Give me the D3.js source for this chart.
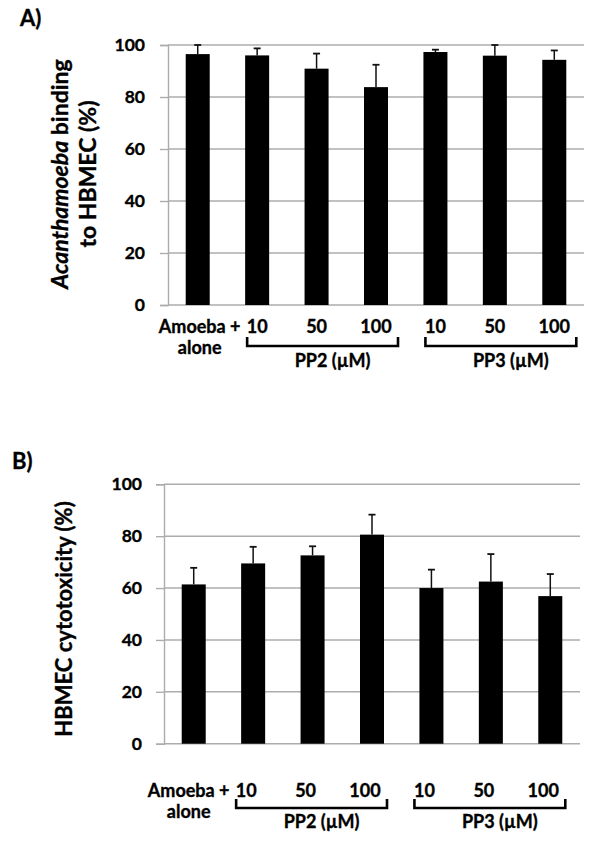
<!DOCTYPE html>
<html><head><meta charset="utf-8">
<script src="https://cdn.jsdelivr.net/npm/d3@7"></script>
<style>body{margin:0;background:#fff}svg{display:block}text{font-family:Lato,"Open Sans",sans-serif;font-weight:bold;fill:#000;stroke:#000;stroke-width:0.35px}</style>
</head><body>
<svg id="c" width="600" height="845"></svg>
<script>
const categories = ["Amoeba +|alone", "10", "50", "100", "10", "50", "100"];
const bindingMeans = [96.5, 96.0, 90.9, 83.8, 97.3, 95.9, 94.3];
const bindingErrors = [3.5, 2.7, 5.8, 8.6, 0.9, 4.1, 3.6];
const cytoMeans = [61.4, 69.5, 72.6, 80.6, 60.0, 62.5, 56.9];
const cytoErrors = [6.4, 6.4, 3.5, 7.7, 7.1, 10.6, 8.5];
const yTicks = [0, 20, 40, 60, 80, 100];
const groupLabels = ["PP2 (\u00b5M)", "PP3 (\u00b5M)"];
const groupFrom = [1, 4];
const groupTo = [3, 6];

const svg = d3.select("#c");

function panel(o) {
  const g = svg.append("g");
  const y = d3.scaleLinear().domain([0, 100]).range([o.y0, o.y100]);
  const x = d3.scaleBand().domain(d3.range(categories.length)).range([o.left, o.right])
    .paddingInner(0.596).paddingOuter(0.298);
  // gridlines
  g.selectAll(".grid").data(yTicks.filter(d => d > 0)).join("line")
    .attr("x1", o.left).attr("x2", o.right).attr("y1", d => y(d)).attr("y2", d => y(d))
    .attr("stroke", "#acacac").attr("stroke-width", 1.4);
  // axis
  const ax = d3.axisLeft(y).tickValues(yTicks).tickSize(8).tickPadding(o.tickPad);
  const axg = g.append("g").attr("transform", `translate(${o.left},0)`).call(ax);
  axg.select(".domain").attr("stroke", "#acacac").attr("stroke-width", 1.4);
  axg.selectAll(".tick line").attr("stroke", "#acacac").attr("stroke-width", 1.4);
  axg.selectAll(".tick text").attr("font-size", 17.5).attr("font-family", "Lato").attr("font-weight", "bold")
    .attr("fill", "#000").attr("stroke", "#000").attr("stroke-width", 0.35);
  // bottom axis line
  g.append("line").attr("x1", o.left).attr("x2", o.right).attr("y1", y(0)).attr("y2", y(0))
    .attr("stroke", "#acacac").attr("stroke-width", 1.4);
  // bars
  g.selectAll(".bar").data(o.means).join("rect")
    .attr("x", (d, i) => x(i)).attr("width", x.bandwidth())
    .attr("y", d => y(d)).attr("height", d => y(0) - y(d)).attr("fill", "#000");
  // error bars
  const cap = 3.5;
  o.means.forEach((m, i) => {
    const cx = x(i) + x.bandwidth() / 2;
    g.append("line").attr("x1", cx).attr("x2", cx).attr("y1", y(m)).attr("y2", y(m + o.errs[i]))
      .attr("stroke", "#111").attr("stroke-width", 1.5);
    g.append("line").attr("x1", cx - cap).attr("x2", cx + cap).attr("y1", y(m + o.errs[i])).attr("y2", y(m + o.errs[i]))
      .attr("stroke", "#111").attr("stroke-width", 1.8);
  });
  // x labels
  categories.forEach((c, i) => {
    const cx = x(i) + x.bandwidth() / 2 + o.lblShift;
    const parts = c.split("|");
    parts.forEach((p, k) => {
      g.append("text").attr("x", cx + (i === 0 ? 2 : 0)).attr("y", o.lblY + k * o.lineGap)
        .attr("text-anchor", "middle").attr("font-size", 18).text(p);
    });
  });
  // group brackets
  groupLabels.forEach((lab, j) => {
    const l = x(groupFrom[j]) + 2 + o.lblShift;
    const r = x(groupTo[j]) + x.bandwidth() + 10 + o.lblShift;
    const by = o.brY;
    g.append("path").attr("d", `M${l},${by - 9}V${by}H${r}V${by - 9}`)
      .attr("fill", "none").attr("stroke", "#000").attr("stroke-width", 2.6);
    g.append("text").attr("x", (l + r) / 2 + 10).attr("y", o.grpY).attr("text-anchor", "middle")
      .attr("font-size", 18).text(lab);
  });
  // panel letter
  g.append("text").attr("x", o.letterX).attr("y", o.letterY).attr("font-size", 22).text(o.letter);
  return { g, y };
}

const A = panel({ left: 168, right: 584, y0: 305, y100: 45, means: bindingMeans, errs: bindingErrors, tickPad: 15,
  lblShift: 0, lblY: 333, lineGap: 21, brY: 346, grpY: 367, letter: "A)", letterX: 20, letterY: 26 });
// A y-label
const la = A.g.append("text").attr("transform", "translate(68,174) rotate(-90)").attr("text-anchor", "middle").attr("font-size", 23);
la.append("tspan").attr("font-style", "italic").text("Acanthamoeba");
la.append("tspan").text(" binding");
A.g.append("text").attr("transform", "translate(96,174) rotate(-90)").attr("text-anchor", "middle").attr("font-size", 23).text("to HBMEC (%)");

const B = panel({ left: 164, right: 580, y0: 743.7, y100: 484.3, means: cytoMeans, errs: cytoErrors, tickPad: 14,
  lblShift: -7, lblY: 797, lineGap: 21, brY: 808, grpY: 828, letter: "B)", letterX: 12, letterY: 469 });
B.g.append("text").attr("transform", "translate(72,619) rotate(-90)").attr("text-anchor", "middle").attr("font-size", 22).text("HBMEC cytotoxicity (%)");
</script>
</body></html>
